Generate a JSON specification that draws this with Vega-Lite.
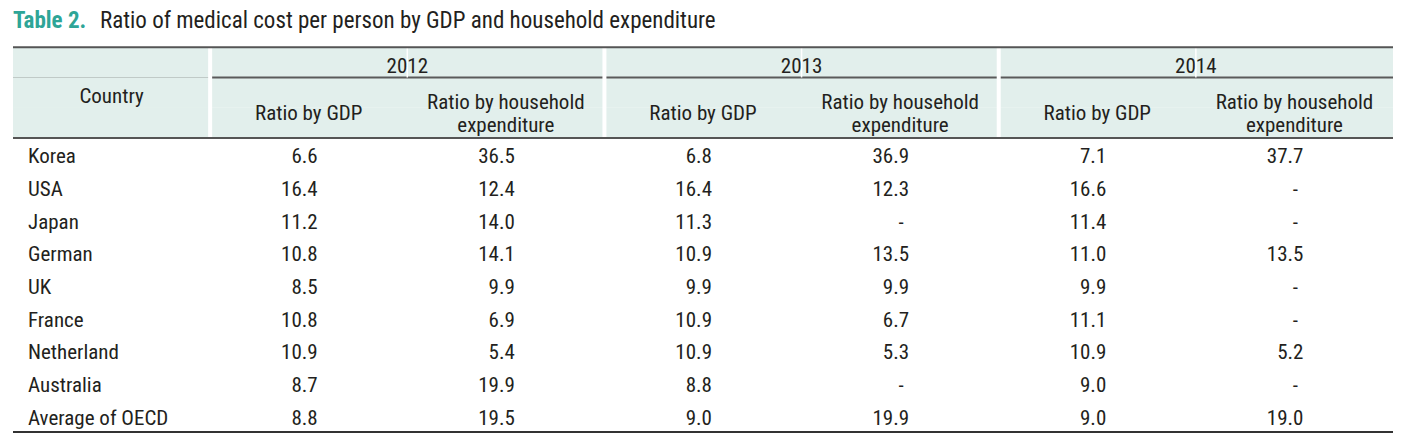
{
  "$schema": "https://vega.github.io/schema/vega-lite/v6.json",
  "padding": {"left": 12, "top": 9, "right": 18, "bottom": 5},
  "autosize": "pad",
  "spacing": 0,
  "bounds": "flush",
  "config": {
    "view": {"stroke": null},
    "axis": {"disable": true},
    "text": {"font": "'Roboto Condensed', 'Liberation Sans Narrow', 'DejaVu Sans Condensed', Roboto, sans-serif", "fontSize": 21, "color": "#231f20", "baseline": "middle"}
  },
  "datasets": {
    "table": [
      {"Country": "Korea", "2012 GDP": 6.6, "2012 HH": 36.5, "2013 GDP": 6.8, "2013 HH": 36.9, "2014 GDP": 7.1, "2014 HH": 37.7},
      {"Country": "USA", "2012 GDP": 16.4, "2012 HH": 12.4, "2013 GDP": 16.4, "2013 HH": 12.3, "2014 GDP": 16.6, "2014 HH": null},
      {"Country": "Japan", "2012 GDP": 11.2, "2012 HH": 14.0, "2013 GDP": 11.3, "2013 HH": null, "2014 GDP": 11.4, "2014 HH": null},
      {"Country": "German", "2012 GDP": 10.8, "2012 HH": 14.1, "2013 GDP": 10.9, "2013 HH": 13.5, "2014 GDP": 11.0, "2014 HH": 13.5},
      {"Country": "UK", "2012 GDP": 8.5, "2012 HH": 9.9, "2013 GDP": 9.9, "2013 HH": 9.9, "2014 GDP": 9.9, "2014 HH": null},
      {"Country": "France", "2012 GDP": 10.8, "2012 HH": 6.9, "2013 GDP": 10.9, "2013 HH": 6.7, "2014 GDP": 11.1, "2014 HH": null},
      {"Country": "Netherland", "2012 GDP": 10.9, "2012 HH": 5.4, "2013 GDP": 10.9, "2013 HH": 5.3, "2014 GDP": 10.9, "2014 HH": 5.2},
      {"Country": "Australia", "2012 GDP": 8.7, "2012 HH": 19.9, "2013 GDP": 8.8, "2013 HH": null, "2014 GDP": 9.0, "2014 HH": null},
      {"Country": "Average of OECD", "2012 GDP": 8.8, "2012 HH": 19.5, "2013 GDP": 9.0, "2013 HH": 19.9, "2014 GDP": 9.0, "2014 HH": 19.0}
    ],
    "levels": [{"level": "H0"}, {"level": "H1"}, {"level": "H2"}],
    "years": [
      {"col": "2012 HH", "year": "2012"},
      {"col": "2013 HH", "year": "2013"},
      {"col": "2014 HH", "year": "2014"}
    ],
    "groupstarts": [{"col": "2012 GDP"}, {"col": "2013 GDP"}, {"col": "2014 GDP"}],
    "substarts": [{"col": "2012 HH"}, {"col": "2013 HH"}, {"col": "2014 HH"}],
    "subs": [
      {"col": "2012 GDP", "kind": "gdp", "label": "Ratio by GDP"},
      {"col": "2012 HH", "kind": "hh", "label": "Ratio by household\nexpenditure"},
      {"col": "2013 GDP", "kind": "gdp", "label": "Ratio by GDP"},
      {"col": "2013 HH", "kind": "hh", "label": "Ratio by household\nexpenditure"},
      {"col": "2014 GDP", "kind": "gdp", "label": "Ratio by GDP"},
      {"col": "2014 HH", "kind": "hh", "label": "Ratio by household\nexpenditure"}
    ],
    "titles": [{"a": "Table 2.", "b": "Ratio of medical cost per person by GDP and household expenditure", "c": "Country"}]
  },
  "vconcat": [
    {
      "width": 1380,
      "height": 121,
      "layer": [
        {
          "data": {"name": "levels"},
          "mark": {"type": "rect", "fill": "#e2efec"},
          "encoding": {
            "y": {"field": "level", "type": "nominal", "axis": null, "scale": {"type": "band", "domain": ["T", "H0", "H1", "H2"], "paddingInner": 0, "paddingOuter": 0}}
          }
        },
        {
          "data": {"values": [{"k": 1}]},
          "mark": {"type": "rule", "orient": "horizontal", "stroke": "#5a5a5a", "strokeWidth": 2},
          "encoding": {
            "y": {"datum": "H1", "type": "nominal", "bandPosition": 0, "axis": null, "scale": {"type": "band", "domain": ["T", "H0", "H1", "H2"], "paddingInner": 0, "paddingOuter": 0}}
          }
        },
        {
          "data": {"name": "levels"},
          "mark": {"type": "rect", "fill": "#e2efec"},
          "encoding": {
            "x": {"datum": "Country", "type": "nominal", "axis": null, "scale": {"type": "band", "domain": ["Country", "2012 GDP", "2012 HH", "2013 GDP", "2013 HH", "2014 GDP", "2014 HH"], "paddingInner": 0, "paddingOuter": 0}},
            "y": {"field": "level", "type": "nominal", "axis": null, "scale": {"type": "band", "domain": ["T", "H0", "H1", "H2"], "paddingInner": 0, "paddingOuter": 0}}
          }
        },
        {
          "data": {"name": "groupstarts"},
          "mark": {"type": "rule", "orient": "vertical", "stroke": "#ffffff", "strokeWidth": 4},
          "encoding": {
            "x": {"field": "col", "type": "nominal", "bandPosition": 0, "axis": null, "scale": {"type": "band", "domain": ["Country", "2012 GDP", "2012 HH", "2013 GDP", "2013 HH", "2014 GDP", "2014 HH"], "paddingInner": 0, "paddingOuter": 0}}
          }
        },
        {
          "data": {"name": "substarts"},
          "mark": {"type": "rule", "orient": "vertical", "stroke": "#ffffff", "strokeWidth": 1.5},
          "encoding": {
            "x": {"field": "col", "type": "nominal", "bandPosition": 0, "axis": null, "scale": {"type": "band", "domain": ["Country", "2012 GDP", "2012 HH", "2013 GDP", "2013 HH", "2014 GDP", "2014 HH"], "paddingInner": 0, "paddingOuter": 0}},
            "y": {"datum": "H1", "type": "nominal", "bandPosition": 0, "axis": null, "scale": {"type": "band", "domain": ["T", "H0", "H1", "H2"], "paddingInner": 0, "paddingOuter": 0}}
          }
        },
        {
          "data": {"values": [{"k": 1}]},
          "mark": {"type": "rule", "orient": "horizontal", "stroke": "#555555", "strokeWidth": 2},
          "encoding": {
            "y": {"datum": "H0", "type": "nominal", "bandPosition": 0, "axis": null, "scale": {"type": "band", "domain": ["T", "H0", "H1", "H2"], "paddingInner": 0, "paddingOuter": 0}}
          }
        },
        {
          "data": {"values": [{"k": 1}]},
          "mark": {"type": "rule", "orient": "horizontal", "stroke": "#555555", "strokeWidth": 2},
          "encoding": {
            "y": {"datum": "H2", "type": "nominal", "bandPosition": 1, "axis": null, "scale": {"type": "band", "domain": ["T", "H0", "H1", "H2"], "paddingInner": 0, "paddingOuter": 0}}
          }
        },
        {
          "data": {"name": "titles"},
          "mark": {"type": "text", "align": "left", "fontWeight": "bold", "color": "#2ea597", "fontSize": 23},
          "encoding": {
            "x": {"datum": "Country", "type": "nominal", "bandPosition": 0, "axis": null, "scale": {"type": "band", "domain": ["Country", "2012 GDP", "2012 HH", "2013 GDP", "2013 HH", "2014 GDP", "2014 HH"], "paddingInner": 0, "paddingOuter": 0}},
            "y": {"datum": "T", "type": "nominal", "bandPosition": 0.13, "axis": null, "scale": {"type": "band", "domain": ["T", "H0", "H1", "H2"], "paddingInner": 0, "paddingOuter": 0}},
            "text": {"field": "a", "type": "nominal"}
          }
        },
        {
          "data": {"name": "titles"},
          "mark": {"type": "text", "align": "left", "dx": 87, "fontSize": 23},
          "encoding": {
            "x": {"datum": "Country", "type": "nominal", "bandPosition": 0, "axis": null, "scale": {"type": "band", "domain": ["Country", "2012 GDP", "2012 HH", "2013 GDP", "2013 HH", "2014 GDP", "2014 HH"], "paddingInner": 0, "paddingOuter": 0}},
            "y": {"datum": "T", "type": "nominal", "bandPosition": 0.13, "axis": null, "scale": {"type": "band", "domain": ["T", "H0", "H1", "H2"], "paddingInner": 0, "paddingOuter": 0}},
            "text": {"field": "b", "type": "nominal"}
          }
        },
        {
          "data": {"name": "titles"},
          "mark": {"type": "text", "align": "center", "dy": 2},
          "encoding": {
            "x": {"datum": "Country", "type": "nominal", "axis": null, "scale": {"type": "band", "domain": ["Country", "2012 GDP", "2012 HH", "2013 GDP", "2013 HH", "2014 GDP", "2014 HH"], "paddingInner": 0, "paddingOuter": 0}},
            "y": {"datum": "H1", "type": "nominal", "bandPosition": 0.58, "axis": null, "scale": {"type": "band", "domain": ["T", "H0", "H1", "H2"], "paddingInner": 0, "paddingOuter": 0}},
            "text": {"field": "c", "type": "nominal"}
          }
        },
        {
          "data": {"name": "years"},
          "mark": {"type": "text", "align": "center", "dy": 2},
          "encoding": {
            "x": {"field": "col", "type": "nominal", "bandPosition": 0, "axis": null, "scale": {"type": "band", "domain": ["Country", "2012 GDP", "2012 HH", "2013 GDP", "2013 HH", "2014 GDP", "2014 HH"], "paddingInner": 0, "paddingOuter": 0}},
            "y": {"datum": "H0", "type": "nominal", "bandPosition": 0.59, "axis": null, "scale": {"type": "band", "domain": ["T", "H0", "H1", "H2"], "paddingInner": 0, "paddingOuter": 0}},
            "text": {"field": "year", "type": "nominal"}
          }
        },
        {
          "data": {"name": "subs"},
          "transform": [{"filter": "datum.kind == 'gdp'"}],
          "mark": {"type": "text", "align": "center", "dy": 2},
          "encoding": {
            "x": {"field": "col", "type": "nominal", "axis": null, "scale": {"type": "band", "domain": ["Country", "2012 GDP", "2012 HH", "2013 GDP", "2013 HH", "2014 GDP", "2014 HH"], "paddingInner": 0, "paddingOuter": 0}},
            "y": {"datum": "H2", "type": "nominal", "bandPosition": 0.14, "axis": null, "scale": {"type": "band", "domain": ["T", "H0", "H1", "H2"], "paddingInner": 0, "paddingOuter": 0}},
            "text": {"field": "label", "type": "nominal"}
          }
        },
        {
          "data": {"name": "subs"},
          "transform": [{"filter": "datum.kind == 'hh'"}],
          "mark": {"type": "text", "align": "center", "dy": 2, "lineBreak": "\n", "lineHeight": 23},
          "encoding": {
            "x": {"field": "col", "type": "nominal", "axis": null, "scale": {"type": "band", "domain": ["Country", "2012 GDP", "2012 HH", "2013 GDP", "2013 HH", "2014 GDP", "2014 HH"], "paddingInner": 0, "paddingOuter": 0}},
            "y": {"datum": "H1", "type": "nominal", "bandPosition": 0.78, "axis": null, "scale": {"type": "band", "domain": ["T", "H0", "H1", "H2"], "paddingInner": 0, "paddingOuter": 0}},
            "text": {"field": "label", "type": "nominal"}
          }
        }
      ]
    },
    {
      "width": 1380,
      "height": 294,
      "data": {"name": "table"},
      "layer": [
        {
          "mark": {"type": "text", "align": "left", "dx": 15, "dy": 3},
          "encoding": {
            "x": {"datum": "Country", "type": "nominal", "bandPosition": 0, "axis": null, "scale": {"type": "band", "domain": ["Country", "2012 GDP", "2012 HH", "2013 GDP", "2013 HH", "2014 GDP", "2014 HH"], "paddingInner": 0, "paddingOuter": 0}},
            "y": {"field": "Country", "type": "nominal", "axis": null, "scale": {"type": "band", "domain": ["Korea", "USA", "Japan", "German", "UK", "France", "Netherland", "Australia", "Average of OECD"], "paddingInner": 0, "paddingOuter": 0}},
            "text": {"field": "Country", "type": "nominal"}
          }
        },
        {
          "transform": [
            {"fold": ["2012 GDP", "2012 HH", "2013 GDP", "2013 HH", "2014 GDP", "2014 HH"], "as": ["col", "value"]},
            {"filter": "datum.value != null"}
          ],
          "mark": {"type": "text", "align": "right", "dx": 9, "dy": 3},
          "encoding": {
            "x": {"field": "col", "type": "nominal", "axis": null, "scale": {"type": "band", "domain": ["Country", "2012 GDP", "2012 HH", "2013 GDP", "2013 HH", "2014 GDP", "2014 HH"], "paddingInner": 0, "paddingOuter": 0}},
            "y": {"field": "Country", "type": "nominal", "axis": null, "scale": {"type": "band", "domain": ["Korea", "USA", "Japan", "German", "UK", "France", "Netherland", "Australia", "Average of OECD"], "paddingInner": 0, "paddingOuter": 0}},
            "text": {"field": "value", "type": "quantitative", "format": ".1f"}
          }
        },
        {
          "transform": [
            {"fold": ["2012 GDP", "2012 HH", "2013 GDP", "2013 HH", "2014 GDP", "2014 HH"], "as": ["col", "value"]},
            {"filter": "datum.value == null"}
          ],
          "mark": {"type": "text", "align": "center", "text": "-", "dx": 1, "dy": 3},
          "encoding": {
            "x": {"field": "col", "type": "nominal", "axis": null, "scale": {"type": "band", "domain": ["Country", "2012 GDP", "2012 HH", "2013 GDP", "2013 HH", "2014 GDP", "2014 HH"], "paddingInner": 0, "paddingOuter": 0}},
            "y": {"field": "Country", "type": "nominal", "axis": null, "scale": {"type": "band", "domain": ["Korea", "USA", "Japan", "German", "UK", "France", "Netherland", "Australia", "Average of OECD"], "paddingInner": 0, "paddingOuter": 0}}
          }
        },
        {
          "mark": {"type": "rule", "orient": "horizontal", "stroke": "#333333", "strokeWidth": 1.5},
          "encoding": {
            "y": {"datum": "Average of OECD", "type": "nominal", "bandPosition": 1, "axis": null, "scale": {"type": "band", "domain": ["Korea", "USA", "Japan", "German", "UK", "France", "Netherland", "Australia", "Average of OECD"], "paddingInner": 0, "paddingOuter": 0}}
          }
        }
      ]
    }
  ]
}
